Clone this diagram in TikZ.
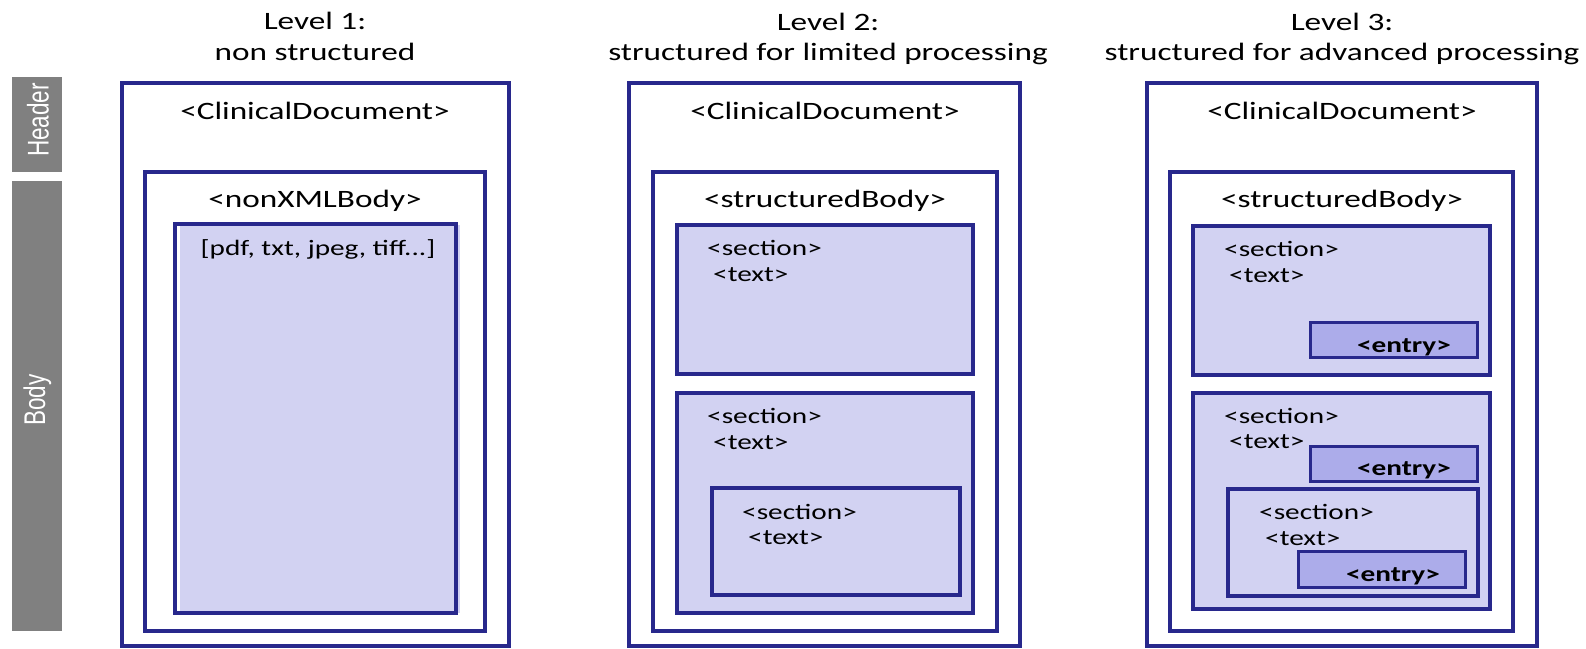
\documentclass[tikz,border=0pt]{standalone}
\usepackage{graphicx}
\usepackage{fontspec}
\setmainfont{Carlito}[FakeStretch=1.33]
\newfontfamily\barfont{Liberation Sans}
\definecolor{bordc}{RGB}{40,40,140}
\definecolor{secfill}{RGB}{210,210,242}
\definecolor{entfill}{RGB}{172,172,234}
\definecolor{barc}{RGB}{128,128,128}
\tikzset{
 frame/.style={draw=bordc, line width=3.5pt, inner sep=0pt, outer sep=0pt, anchor=north west},
 secbox/.style={frame, fill=secfill},
 entbox/.style={frame, fill=entfill, line width=3pt},
 bar/.style={fill=barc, inner sep=0pt, outer sep=0pt, anchor=north west},
 big/.style={font=\fontsize{25}{30}\selectfont, anchor=base, inner sep=0pt},
 tagw/.style={font=\fontsize{22}{26}\selectfont, anchor=base west, inner sep=0pt},
 tagc/.style={font=\fontsize{22}{26}\selectfont, anchor=base, inner sep=0pt},
 entrytxt/.style={font=\fontsize{22}{26}\selectfont\bfseries, anchor=base, inner sep=0pt},
 bartxt/.style={font=\barfont\fontsize{22.5}{26}\selectfont, text=white, rotate=90, inner sep=0pt},
}
\begin{document}
\begin{tikzpicture}[x=1pt,y=-1pt]
\useasboundingbox (0,0) rectangle (1586,648);
% side bars
\node[bar, minimum width=50pt, minimum height=95pt] (hdr) at (12,77) {};
\node[bar, minimum width=50pt, minimum height=450pt] (bdy) at (12,181) {};
\node[bartxt] (hdrtxt) at (38,120) {\scalebox{1}[1.33]{Header}};
\node[bartxt] (bdytxt) at (37.5,400) {\scalebox{1}[1.33]{Body}};
% titles
\node[big] (t1a) at (315,29.5) {Level 1:};
\node[big] (t1b) at (315,60) {non structured};
\node[big] (t2a) at (828,30.5) {Level 2:};
\node[big] (t2b) at (828,60) {structured for limited processing};
\node[big] (t3a) at (1342,30.5) {Level 3:};
\node[big] (t3b) at (1342,60) {structured for advanced processing};
% ---------- Level 1
\node[frame, minimum width=387pt, minimum height=563pt] (o1) at (122,83) {};
\node[frame, minimum width=340pt, minimum height=459pt] (b1) at (145,172) {};
\fill[secfill] (180,225) rectangle (460,613);
\node[frame, minimum width=281pt, minimum height=389pt] (c1) at (175,224) {};
\node[big] (cd1) at (315,119) {<ClinicalDocument>};
\node[big] (nx1) at (315,207) {<nonXMLBody>};
\node[tagc] (pdf1) at (318,255) {[pdf, txt, jpeg, tiff...]};
% ---------- Level 2
\node[frame, minimum width=391pt, minimum height=563pt] (o2) at (629,83) {};
\node[frame, minimum width=344pt, minimum height=459pt] (b2) at (653,172) {};
\node[secbox, minimum width=296pt, minimum height=149pt] (s21) at (677,225) {};
\node[secbox, minimum width=296pt, minimum height=220pt] (s22) at (677,393) {};
\node[secbox, minimum width=248pt, minimum height=107pt] (s23) at (712,488) {};
\node[big] (cd2) at (825,119) {<ClinicalDocument>};
\node[big] (sb2) at (825,207) {<structuredBody>};
\node[tagw] (s21a) at (707,255) {<section>};
\node[tagw] (s21b) at (713,281) {<text>};
\node[tagw] (s22a) at (707,423) {<section>};
\node[tagw] (s22b) at (713,449) {<text>};
\node[tagw] (s23a) at (742,519) {<section>};
\node[tagw] (s23b) at (748,544) {<text>};
% ---------- Level 3
\node[frame, minimum width=390pt, minimum height=563pt] (o3) at (1147,83) {};
\node[frame, minimum width=343pt, minimum height=459pt] (b3) at (1170,172) {};
\node[secbox, minimum width=297pt, minimum height=149pt] (s31) at (1193,226) {};
\node[entbox, minimum width=167pt, minimum height=35pt] (e31) at (1310,322) {};
\node[secbox, minimum width=297pt, minimum height=216pt] (s32) at (1193,393) {};
\node[entbox, minimum width=167pt, minimum height=35pt] (e32) at (1310,446) {};
\node[secbox, minimum width=250pt, minimum height=107pt] (s33) at (1228,489) {};
\node[entbox, minimum width=167pt, minimum height=36pt] (e33) at (1298,551) {};
\node[big] (cd3) at (1342,119) {<ClinicalDocument>};
\node[big] (sb3) at (1342,207) {<structuredBody>};
\node[tagw] (s31a) at (1224,256) {<section>};
\node[tagw] (s31b) at (1229,282) {<text>};
\node[entrytxt] (e31t) at (1404,352) {<entry>};
\node[tagw] (s32a) at (1224,423) {<section>};
\node[tagw] (s32b) at (1229,448) {<text>};
\node[entrytxt] (e32t) at (1404,475) {<entry>};
\node[tagw] (s33a) at (1259,519) {<section>};
\node[tagw] (s33b) at (1265,545) {<text>};
\node[entrytxt] (e33t) at (1393,581) {<entry>};
\end{tikzpicture}
\end{document}
